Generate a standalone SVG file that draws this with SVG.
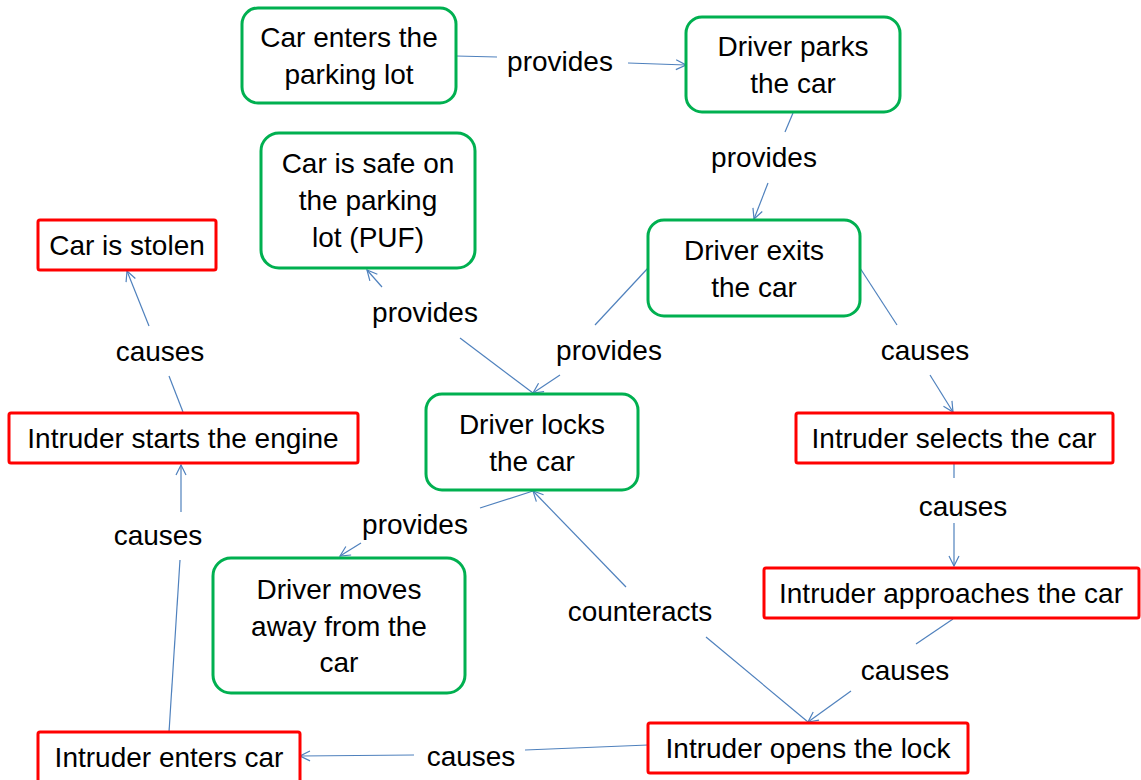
<svg xmlns="http://www.w3.org/2000/svg" width="1141" height="780" viewBox="0 0 1141 780">
  <style>
    .good { fill: #fff; stroke: #00B050; stroke-width: 3; }
    .bad { fill: #fff; stroke: #FF0000; stroke-width: 3; }
    text { font-family: "Liberation Sans", Arial, sans-serif; font-size: 28px; fill: #000; text-anchor: middle; }
    .edge { stroke: #4F81BD; stroke-width: 1.2; fill: none; }
    .tip { marker-end: url(#arrow); }
  </style>
  <defs>
    <marker id="arrow" viewBox="0 0 12 12" refX="11" refY="6" markerWidth="12" markerHeight="12" markerUnits="userSpaceOnUse" orient="auto">
      <path d="M1,1 L11,6 L1,11" fill="none" stroke="#4F81BD" stroke-width="1.2"/>
    </marker>
  </defs>

  <!-- connectors, each split around its label -->
  <g id="connectors">
    <line class="edge" x1="456" y1="56" x2="497" y2="57"/>
    <line class="edge tip" x1="628" y1="63" x2="686" y2="65"/>

    <line class="edge" x1="793" y1="113" x2="785" y2="132"/>
    <line class="edge tip" x1="768" y1="183" x2="754" y2="219"/>

    <line class="edge" x1="648" y1="268" x2="595" y2="325"/>
    <line class="edge tip" x1="560" y1="375" x2="533" y2="393"/>

    <line class="edge" x1="533" y1="393" x2="460" y2="338"/>
    <line class="edge tip" x1="382" y1="287" x2="367" y2="270"/>

    <line class="edge" x1="860" y1="268" x2="897" y2="325"/>
    <line class="edge tip" x1="930" y1="375" x2="953" y2="412"/>

    <line class="edge" x1="954" y1="464" x2="954" y2="478"/>
    <line class="edge tip" x1="954" y1="523" x2="954" y2="566"/>

    <line class="edge" x1="953" y1="619" x2="916" y2="644"/>
    <line class="edge tip" x1="851" y1="691" x2="808" y2="722"/>

    <line class="edge" x1="808" y1="722" x2="706" y2="637"/>
    <line class="edge tip" x1="626" y1="587" x2="533" y2="491"/>

    <line class="edge" x1="533" y1="491" x2="480" y2="508"/>
    <line class="edge tip" x1="361" y1="543" x2="340" y2="556"/>

    <line class="edge" x1="648" y1="745" x2="525" y2="750"/>
    <line class="edge tip" x1="414" y1="755" x2="300" y2="756"/>

    <line class="edge" x1="169" y1="732" x2="180" y2="560"/>
    <line class="edge tip" x1="181" y1="512" x2="181" y2="465"/>

    <line class="edge" x1="183" y1="412" x2="169" y2="376"/>
    <line class="edge tip" x1="149" y1="326" x2="127" y2="271"/>
  </g>

  <!-- connector labels -->
  <g id="labels">
    <text x="560" y="71">provides</text>
    <text x="764" y="167">provides</text>
    <text x="609" y="360">provides</text>
    <text x="425" y="322">provides</text>
    <text x="925" y="360">causes</text>
    <text x="963" y="516">causes</text>
    <text x="905" y="680">causes</text>
    <text x="640" y="621">counteracts</text>
    <text x="415" y="534">provides</text>
    <text x="471" y="766">causes</text>
    <text x="158" y="545">causes</text>
    <text x="160" y="361">causes</text>
  </g>

  <!-- desired states / driver actions -->
  <g id="car-enters">
    <rect class="good" x="242" y="8" width="214" height="95" rx="16"/>
    <text x="349" y="47">Car enters the</text>
    <text x="349" y="84">parking lot</text>
  </g>
  <g id="driver-parks">
    <rect class="good" x="686" y="17" width="214" height="95" rx="16"/>
    <text x="793" y="56">Driver parks</text>
    <text x="793" y="93">the car</text>
  </g>
  <g id="car-safe">
    <rect class="good" x="261" y="133" width="214" height="135" rx="18"/>
    <text x="368" y="173">Car is safe on</text>
    <text x="368" y="210">the parking</text>
    <text x="368" y="247">lot (PUF)</text>
  </g>
  <g id="driver-exits">
    <rect class="good" x="648" y="220" width="212" height="96" rx="16"/>
    <text x="754" y="260">Driver exits</text>
    <text x="754" y="297">the car</text>
  </g>
  <g id="driver-locks">
    <rect class="good" x="426" y="394" width="212" height="96" rx="16"/>
    <text x="532" y="434">Driver locks</text>
    <text x="532" y="471">the car</text>
  </g>
  <g id="driver-moves">
    <rect class="good" x="213" y="558" width="252" height="135" rx="18"/>
    <text x="339" y="599">Driver moves</text>
    <text x="339" y="636">away from the</text>
    <text x="339" y="672">car</text>
  </g>

  <!-- threat chain -->
  <g id="car-stolen">
    <rect class="bad" x="38" y="220" width="178" height="50" rx="2"/>
    <text x="127" y="255">Car is stolen</text>
  </g>
  <g id="intruder-starts">
    <rect class="bad" x="9" y="413" width="349" height="50" rx="2"/>
    <text x="183" y="448">Intruder starts the engine</text>
  </g>
  <g id="intruder-selects">
    <rect class="bad" x="796" y="413" width="317" height="50" rx="2"/>
    <text x="954" y="448">Intruder selects the car</text>
  </g>
  <g id="intruder-approaches">
    <rect class="bad" x="764" y="568" width="375" height="50" rx="2"/>
    <text x="951" y="603">Intruder approaches the car</text>
  </g>
  <g id="intruder-opens">
    <rect class="bad" x="648" y="723" width="320" height="50" rx="2"/>
    <text x="808" y="758">Intruder opens the lock</text>
  </g>
  <g id="intruder-enters">
    <rect class="bad" x="38" y="732" width="262" height="50" rx="2"/>
    <text x="169" y="767">Intruder enters car</text>
  </g>
</svg>
